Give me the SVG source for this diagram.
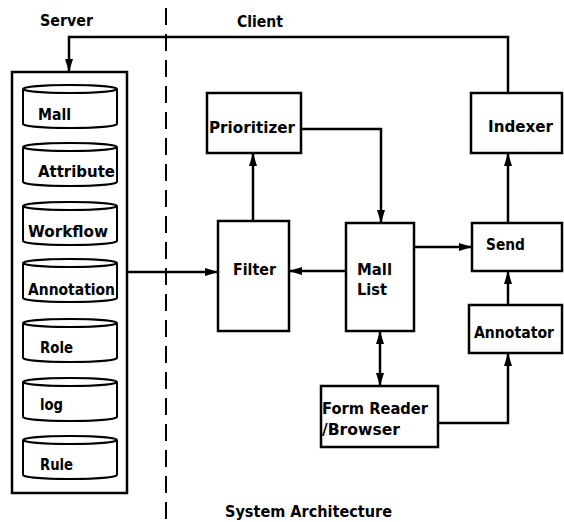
<svg xmlns="http://www.w3.org/2000/svg" width="564" height="522" viewBox="0 0 564 522">
<style>
  .box { fill: #fff; stroke: #000; stroke-width: 2.5; }
  .cyl { fill: #fff; stroke: #000; stroke-width: 2; }
  .t { font-family: "DejaVu Sans", "Liberation Sans", sans-serif; font-weight: bold; font-size: 16px; fill: #000; }
  .c { fill: none; stroke: #000; stroke-width: 2.5; }
</style>
<defs>
  <marker id="ah" markerWidth="13" markerHeight="8" refX="12" refY="4" orient="auto-start-reverse" markerUnits="userSpaceOnUse">
    <path d="M0,0 L13,4 L0,8 Z" fill="#000"/>
  </marker>
</defs>

<text class="t" x="40" y="26" textLength="53" lengthAdjust="spacingAndGlyphs">Server</text>
<text class="t" x="237" y="27" textLength="46" lengthAdjust="spacingAndGlyphs">Client</text>
<line x1="166" y1="8" x2="166" y2="522" stroke="#000" stroke-width="2" stroke-dasharray="17 9"/>

<g id="server">
  <rect class="box" x="12" y="72" width="115" height="421" stroke-width="2"/>
  <g id="db-mall">
    <path class="cyl" d="M23,89 V124 A47,4 0 0 0 117,124 V89"/>
    <ellipse class="cyl" cx="70" cy="89" rx="47" ry="4"/>
    <text class="t" x="38" y="120" textLength="33" lengthAdjust="spacingAndGlyphs">Mall</text>
  </g>
  <g id="db-attribute">
    <path class="cyl" d="M23,147 V182 A47,4 0 0 0 117,182 V147"/>
    <ellipse class="cyl" cx="70" cy="147" rx="47" ry="4"/>
    <text class="t" x="38" y="177" textLength="77" lengthAdjust="spacingAndGlyphs">Attribute</text>
  </g>
  <g id="db-workflow">
    <path class="cyl" d="M23,206 V241 A47,4 0 0 0 117,241 V206"/>
    <ellipse class="cyl" cx="70" cy="206" rx="47" ry="4"/>
    <text class="t" x="28" y="237" textLength="80" lengthAdjust="spacingAndGlyphs">Workflow</text>
  </g>
  <g id="db-annotation">
    <path class="cyl" d="M23,263 V298 A47,4 0 0 0 117,298 V263"/>
    <ellipse class="cyl" cx="70" cy="263" rx="47" ry="4"/>
    <text class="t" x="28" y="295" textLength="87" lengthAdjust="spacingAndGlyphs">Annotation</text>
  </g>
  <g id="db-role">
    <path class="cyl" d="M23,323 V358 A47,4 0 0 0 117,358 V323"/>
    <ellipse class="cyl" cx="70" cy="323" rx="47" ry="4"/>
    <text class="t" x="40" y="353" textLength="33" lengthAdjust="spacingAndGlyphs">Role</text>
  </g>
  <g id="db-log">
    <path class="cyl" d="M23,382 V417 A47,4 0 0 0 117,417 V382"/>
    <ellipse class="cyl" cx="70" cy="382" rx="47" ry="4"/>
    <text class="t" x="40" y="410" textLength="23" lengthAdjust="spacingAndGlyphs">log</text>
  </g>
  <g id="db-rule">
    <path class="cyl" d="M23,440 V475 A47,4 0 0 0 117,475 V440"/>
    <ellipse class="cyl" cx="70" cy="440" rx="47" ry="4"/>
    <text class="t" x="40" y="470" textLength="33" lengthAdjust="spacingAndGlyphs">Rule</text>
  </g>
</g>

<g id="prioritizer">
  <rect class="box" x="207" y="93" width="94" height="60"/>
  <text class="t" x="209" y="133" textLength="86" lengthAdjust="spacingAndGlyphs">Prioritizer</text>
</g>
<g id="filter">
  <rect class="box" x="218" y="221" width="71" height="110"/>
  <text class="t" x="233" y="275" textLength="43" lengthAdjust="spacingAndGlyphs">Filter</text>
</g>
<g id="mail-list">
  <rect class="box" x="346" y="223" width="68" height="108"/>
  <text class="t" x="357" y="275" textLength="35" lengthAdjust="spacingAndGlyphs">Mall</text>
  <text class="t" x="357" y="295" textLength="30" lengthAdjust="spacingAndGlyphs">List</text>
</g>
<g id="form-reader">
  <rect class="box" x="321" y="386" width="117" height="61"/>
  <text class="t" x="322" y="414" textLength="106" lengthAdjust="spacingAndGlyphs">Form Reader</text>
  <text class="t" x="322" y="435" textLength="78" lengthAdjust="spacingAndGlyphs">/Browser</text>
</g>
<g id="indexer">
  <rect class="box" x="471" y="93" width="91" height="60"/>
  <text class="t" x="488" y="132" textLength="65" lengthAdjust="spacingAndGlyphs">Indexer</text>
</g>
<g id="send">
  <rect class="box" x="472" y="223" width="90" height="48"/>
  <text class="t" x="486" y="250" textLength="39" lengthAdjust="spacingAndGlyphs">Send</text>
</g>
<g id="annotator">
  <rect class="box" x="469" y="305" width="93" height="48"/>
  <text class="t" x="474" y="338" textLength="80" lengthAdjust="spacingAndGlyphs">Annotator</text>
</g>

<g id="connectors">
  <path class="c" d="M508,93 V37 H69 V71" marker-end="url(#ah)"/>
  <path class="c" d="M301,129 H381 V222" marker-end="url(#ah)"/>
  <path class="c" d="M253,221 V154" marker-end="url(#ah)"/>
  <path class="c" d="M127,272 H217" marker-end="url(#ah)"/>
  <path class="c" d="M346,271 H290" marker-end="url(#ah)"/>
  <path class="c" d="M414,247 H471" marker-end="url(#ah)"/>
  <path class="c" d="M380,332 V385" marker-start="url(#ah)" marker-end="url(#ah)"/>
  <path class="c" d="M508,223 V154" marker-end="url(#ah)"/>
  <path class="c" d="M508,305 V272" marker-end="url(#ah)"/>
  <path class="c" d="M438,423 H508 V354" marker-end="url(#ah)"/>
</g>

<text class="t" x="225" y="517" textLength="167" lengthAdjust="spacingAndGlyphs">System Architecture</text>
</svg>
